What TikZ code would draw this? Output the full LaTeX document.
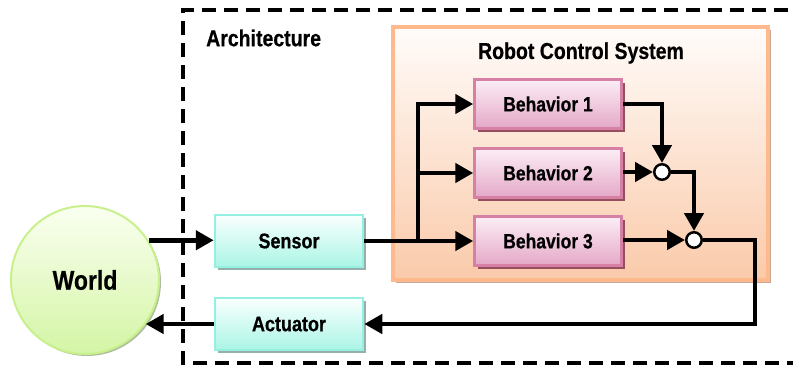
\documentclass[tikz,border=0pt]{standalone}
\usepackage{graphicx}
\usepackage{fontspec}
\setmainfont{Liberation Sans}[BoldFeatures={FakeBold=0.6}]
\usetikzlibrary{arrows.meta,shadows}

\definecolor{rcsline}{RGB}{255,185,140}
\definecolor{rcstop}{RGB}{255,252,250}
\definecolor{rcsbot}{RGB}{250,202,170}
\definecolor{rcsshade}{RGB}{200,168,150}
\definecolor{behline}{RGB}{215,128,165}
\definecolor{behtop}{RGB}{252,238,245}
\definecolor{behbot}{RGB}{228,168,200}
\definecolor{behshade}{RGB}{150,78,95}
\definecolor{ioline}{RGB}{150,240,225}
\definecolor{iotop}{RGB}{250,255,254}
\definecolor{iobot}{RGB}{170,245,230}
\definecolor{ioshade}{RGB}{150,175,170}
\definecolor{worldline}{RGB}{200,240,140}
\definecolor{worldtop}{RGB}{250,255,240}
\definecolor{worldbot}{RGB}{212,245,165}
\definecolor{worldshade}{RGB}{175,190,160}

% labels are set a little taller than the font's natural shape
\newcommand\tallword[1]{\scalebox{1}[1.18]{#1}}

\tikzset{
  archframe/.style={draw=black, line width=4.5pt, dash pattern=on 14pt off 8pt},
  rcsbox/.style={draw=rcsline, line width=3.5pt, top color=rcstop, bottom color=rcsbot,
    minimum width=375pt, minimum height=253pt, inner sep=0pt,
    drop shadow={shadow xshift=3pt, shadow yshift=-3pt, fill=rcsshade, opacity=1}},
  behbox/.style={draw=behline, line width=2.5pt, top color=behtop, bottom color=behbot,
    minimum width=147pt, minimum height=49pt, inner sep=0pt,
    font=\fontsize{17.5}{20}\selectfont\bfseries,
    drop shadow={shadow xshift=3pt, shadow yshift=-3pt, fill=behshade, opacity=1}},
  iobox/.style={draw=ioline, line width=2.5pt, top color=iotop, bottom color=iobot,
    minimum width=148pt, minimum height=52pt, inner sep=0pt,
    font=\fontsize{18}{20}\selectfont\bfseries,
    drop shadow={shadow xshift=3pt, shadow yshift=-3pt, fill=ioshade, opacity=1}},
  worldnode/.style={circle, draw=worldline, line width=2pt, top color=worldtop, bottom color=worldbot,
    minimum size=148pt, inner sep=0pt, font=\fontsize{23}{26}\selectfont\bfseries,
    drop shadow={shadow xshift=2pt, shadow yshift=-2pt, fill=worldshade, opacity=1}},
  junction/.style={circle, draw=black, line width=2.5pt, fill=white, minimum size=15.5pt, inner sep=0pt},
  heading/.style={font=\fontsize{19.5}{22}\selectfont\bfseries, inner sep=0pt},
  flow/.style={line width=4.5pt, line join=miter, -{Triangle[length=18pt,width=19pt]}},
}

\begin{document}
\begin{tikzpicture}[x=1pt,y=-1pt]
\useasboundingbox (0,0) rectangle (793,368);

% architecture boundary (runs past the right edge)
\draw[archframe] (810,10) -- (183,10) -- (183,363) -- (810,363);
\node[heading, anchor=west] (archlabel) at (206,38) {\tallword{Architecture}};

% robot control system
\node[rcsbox] (rcs) at (580.5,153.5) {};
\node[heading] (rcstitle) at (581,53) {\tallword{Robot Control System}};

\node[behbox] (b1) at (548,104) {\tallword{Behavior 1}};
\node[behbox] (b2) at (548,173) {\tallword{Behavior 2}};
\node[behbox] (b3) at (548,241) {\tallword{Behavior 3}};

\node[junction] (j1) at (662,172) {};
\node[junction] (j2) at (694,240) {};

% sensor, actuator and world
\node[iobox] (sensor) at (289,241) {\tallword{Sensor}};
\node[iobox] (actuator) at (289,324) {\tallword{Actuator}};
\node[worldnode] (world) at (85,280) {\tallword{World}};

\coordinate (split) at (418,241);
\coordinate (turn) at (755,324);

% signal flow
\draw[flow] (world.32) -- (world.32 -| sensor.west);
\draw[flow] (sensor.east) -- (b3.west);
\draw[flow] (split) |- (b1.west);
\draw[flow] (split |- b2.west) -- (b2.west);
\draw[flow] (b1.east) -| (j1.north);
\draw[flow] (b2.east |- j1.west) -- (j1.west);
\draw[flow] (j1.east) -| (j2.north);
\draw[flow] (b3.east |- j2.west) -- (j2.west);
\draw[flow] (j2.east) -| (turn) -- (actuator.east);
\draw[flow] (actuator.west) -- (actuator.west -| world.-36);
\end{tikzpicture}
\end{document}
